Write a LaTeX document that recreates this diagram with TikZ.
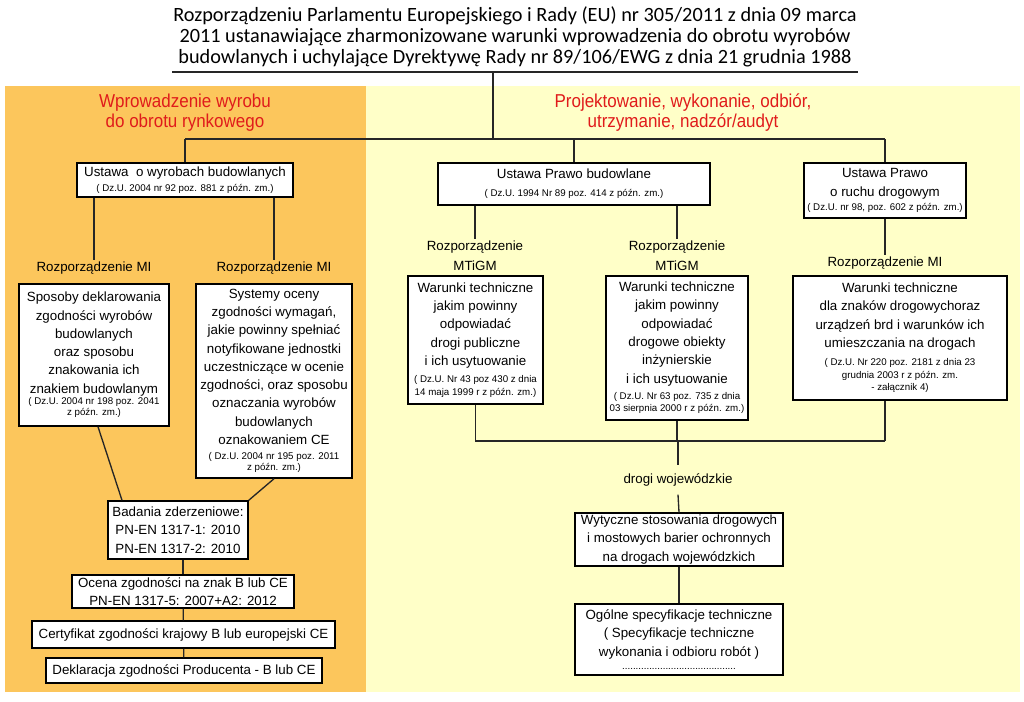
\documentclass[tikz,border=0pt]{standalone}
\usepackage{fontspec}
\setmainfont{Liberation Sans}
\newfontfamily\titlefont{Carlito}
\newfontfamily\headfont[FakeStretch=0.91]{Liberation Sans}
\usepackage{tikz}
\definecolor{panelor}{HTML}{FCC65C}
\definecolor{panelye}{HTML}{FFFFC8}
\definecolor{headred}{HTML}{E01B1B}
\newcommand\dzf{\fontsize{7.3}{9}\selectfont}
\tikzset{
  sz/.style 2 args={minimum width=#1*0.75pt, minimum height=#2*0.75pt},
  box/.style ={draw=black, line width=1.1pt, fill=white, align=center, inner sep=1pt, font=\fontsize{10}{13.7}\selectfont},
  lab/.style ={align=center, inner sep=1.5pt, font=\fontsize{10}{15}\selectfont},
  head/.style={align=center, text=headred, inner sep=1pt, font=\headfont\fontsize{14}{15}\selectfont},
  titl/.style={align=center, inner sep=1pt, font=\titlefont\fontsize{15.2}{15.8}\selectfont},
  link/.style={line width=1pt, draw=black!85},
}
\begin{document}
\begin{tikzpicture}[x=0.75pt, y=-0.75pt]
        \useasboundingbox (0,0) rectangle (1024,701);
        \fill[panelor] (5,86) rectangle (366,692);
        \fill[panelye] (366,86) rectangle (1020,692);
        \node[titl] (T) at (515,36.5) {Rozporządzeniu Parlamentu Europejskiego i Rady (EU) nr 305/2011 z dnia 09 marca\\2011 ustanawiające zharmonizowane warunki wprowadzenia do obrotu wyrobów\\budowlanych i uchylające Dyrektywę Rady nr 89/106/EWG z dnia 21 grudnia 1988};
        \coordinate (tl) at (172,72);
        \coordinate (tr) at (858,72);
        \coordinate (t0) at (493,72);
        \coordinate (h0) at (493,139);
        \coordinate (hl) at (185,139);
        \coordinate (hr) at (885,139);
        \draw[link] (tl) -- (tr);
        \draw[link] (t0) -- (h0);
        \draw[link] (hl) -- (hr);
        \node[head] (H1) at (185,113) {Wprowadzenie wyrobu\\do obrotu rynkowego};
        \node[head] (H2) at (683,113) {Projektowanie, wykonanie, odbiór,\\utrzymanie, nadzór/audyt};
        % ustawy
        \node[box,sz={216}{34}] (U1) at (185,180) {Ustawa\ \ o wyrobach budowlanych\\[-2pt]\dzf ( Dz.U. 2004 nr 92 poz. 881 z późn. zm.)};
        \node[box,sz={272}{42}] (U2) at (574,184) {Ustawa Prawo budowlane\\\dzf ( Dz.U. 1994 Nr 89 poz. 414 z późn. zm.)};
        \node[box,sz={162}{55}] (U3) at (885,190.5) {Ustawa Prawo\\o ruchu drogowym\\[-3pt]\dzf ( Dz.U. nr 98, poz. 602 z późn. zm.)};
        \draw[link] (hl) -- (U1.north);
        \draw[link] (U2.north |- hl) -- (U2.north);
        \draw[link] (hr) -- (U3.north);
        % wprowadzenie wyrobu
        \node[lab] (R1) at (94,268)  {Rozporządzenie MI};
        \node[lab] (R2) at (274,268) {Rozporządzenie MI};
        \node[box,sz={150}{142}] (B1) at (94,355) {Sposoby deklarowania\\zgodności wyrobów\\budowlanych\\oraz sposobu\\znakowania ich\\znakiem budowlanym\\[-5pt]\dzf ( Dz.U. 2004 nr 198 poz. 2041\\[-5.5pt]\dzf z późn. zm.)};
        \node[box,sz={156}{194}] (B2) at (274,381) {Systemy oceny\\zgodności wymagań,\\jakie powinny spełniać\\notyfikowane jednostki\\uczestniczące w ocenie\\zgodności, oraz sposobu\\oznaczania wyrobów\\budowlanych\\oznakowaniem CE\\[-2.5pt]\dzf ( Dz.U. 2004 nr 195 poz. 2011\\[-5pt]\dzf z późn. zm.)};
        \node[box,sz={140}{58}] (BZ) at (178,530) {Badania zderzeniowe:\\PN-EN 1317-1: 2010\\PN-EN 1317-2: 2010};
        \node[box,sz={222}{33}] (OC) at (183,591.5) {Ocena zgodności na znak B lub CE\\PN-EN 1317-5: 2007+A2: 2012};
        \node[box,sz={303}{27}] (CE) at (183.5,634.5) {Certyfikat zgodności krajowy B lub europejski CE};
        \node[box,sz={276}{25}] (DK) at (184,670.5) {Deklaracja zgodności Producenta - B lub CE};
        \draw[link] (R1 |- U1.south) -- (R1.north);
        \draw[link] (R2 |- U1.south) -- (R2.north);
        \draw[link] ([xshift=3pt]B1.south) -- ([xshift=-42pt]BZ.north);
        \draw[link] (B2.south) -- (BZ.north east);
        \draw[link] (OC.north |- BZ.south) -- (OC.north);
        \draw[link] (OC) -- (CE);
        \draw[link] (CE) -- (DK);
        % projektowanie, wykonanie
        \node[lab] (M1) at (475,256) {Rozporządzenie\\MTiGM};
        \node[lab] (M2) at (677,256) {Rozporządzenie\\MTiGM};
        \node[lab] (R3) at (885,263) {Rozporządzenie MI};
        \node[box,sz={135}{128}] (C1) at (475.5,340) {Warunki techniczne\\jakim powinny\\odpowiadać\\drogi publiczne\\i ich usytuowanie\\[-1pt]\dzf ( Dz.U. Nr 43 poz 430 z dnia\\[-4pt]\dzf 14 maja 1999 r z późn. zm.)};
        \node[box,sz={142}{144}] (C2) at (677,348) {Warunki techniczne\\jakim powinny\\odpowiadać\\drogowe obiekty\\inżynierskie\\i ich usytuowanie\\[-1.7pt]\dzf ( Dz.U. Nr 63 poz. 735 z dnia\\[-4pt]\dzf 03 sierpnia 2000 r z późn. zm.)};
        \node[box,sz={214}{124}] (C3) at (900,338) {Warunki techniczne\\dla znaków drogowychoraz\\urządzeń brd i warunków ich\\umieszczania na drogach\\[-0.5pt]\dzf ( Dz.U. Nr 220 poz. 2181 z dnia 23\\[-4pt]\dzf grudnia 2003 r z późn. zm.\\[-4pt]\dzf - załącznik 4)};
        \draw[link] (M1 |- U2.south) -- (M1.north);
        \draw[link] (M2 |- U2.south) -- (M2.north);
        \draw[link] (U3) -- (R3);
        \coordinate (jl) at (475,441);
        \coordinate (jm) at (678,441);
        \coordinate (jr) at (885,441);
        \node[lab,inner ysep=6pt] (DW) at (678,480) {drogi wojewódzkie};
        \node[box,sz={208}{53}] (W) at (679,539.5) {Wytyczne stosowania drogowych\\i mostowych barier ochronnych\\na drogach wojewódzkich};
        \node[box,sz={208}{71}] (O) at (679,639.5) {Ogólne specyfikacje techniczne\\( Specyfikacje techniczne\\wykonania i odbioru robót )\\[-4pt]\dzf ..........................................};
        \draw[link] (C1.south) -- (C1.south |- jl);
        \draw[link] (C2.south) -- (C2.south |- jl);
        \draw[link] (R3 |- C3.south) -- (jr);
        \draw[link] (jl) -- (jr);
        \draw[link] (jm) -- (DW.north);
        \draw[link] (DW.south) -- (W.north);
        \draw[link] (W) -- (O);
      \end{tikzpicture}
\end{document}
